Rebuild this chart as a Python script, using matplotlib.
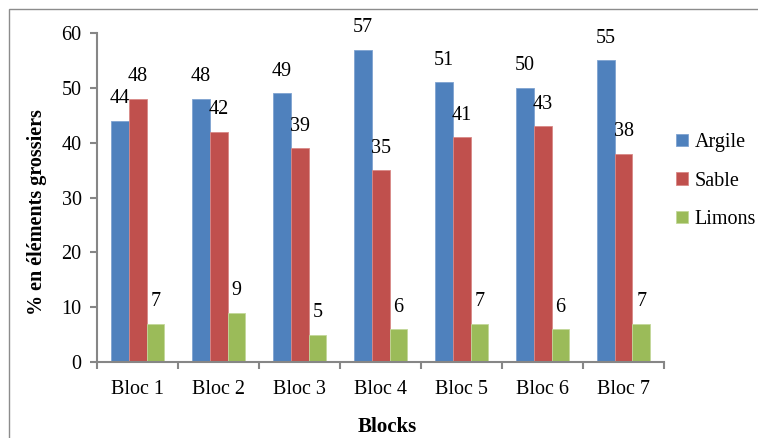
import matplotlib.pyplot as plt
from matplotlib.patches import Rectangle
from matplotlib.ticker import FixedLocator
import numpy as np

plt.rcParams['font.family'] = ['Liberation Serif', 'DejaVu Serif']

blocs = ['Bloc 1', 'Bloc 2', 'Bloc 3', 'Bloc 4', 'Bloc 5', 'Bloc 6', 'Bloc 7']
argile = [44, 48, 49, 57, 51, 50, 55]
sable = [48, 42, 39, 35, 41, 43, 38]
limons = [7, 9, 5, 6, 7, 6, 7]

series = [('Argile', argile, '#4F81BD', '#7FA3D1'),
          ('Sable', sable, '#C0504D', '#D98886'),
          ('Limons', limons, '#9BBB59', '#C3D89A')]

fs = 14.5

fig = plt.figure(figsize=(7.58, 4.38), dpi=100)
ax = fig.add_axes([0.128, 0.1735, 0.748, 0.751])

# outer chart frame (only left and top edges fall inside the image)
fig.patches.append(Rectangle((9 / 758, -0.1), 1.2, 1.1 - 9 / 438,
                             transform=fig.transFigure, fill=False,
                             edgecolor='#8c8c8c', linewidth=1.0))

x = np.arange(len(blocs))
w = 0.222
for i, (name, vals, col, edge) in enumerate(series):
    pos = x + (i - 1) * w
    ax.bar(pos, vals, width=w, color=col, edgecolor=edge, linewidth=0.6, label=name)
    for p, v in zip(pos, vals):
        ax.annotate(str(v), (p, v), xytext=(0, 9), textcoords='offset points',
                    ha='center', va='bottom', fontsize=fs)

ax.set_xlim(-0.5, len(blocs) - 0.5)
ax.set_ylim(0, 60)
ax.set_yticks(range(0, 61, 10))
ax.set_xticks(x)
ax.set_xticklabels(blocs)
ax.xaxis.set_minor_locator(FixedLocator(np.arange(-0.5, len(blocs), 1)))
ax.tick_params(axis='x', which='major', length=0, pad=13, labelsize=fs)
ax.tick_params(axis='x', which='minor', length=5, width=1.5, color='#868686')
ax.tick_params(axis='y', length=5, width=1.5, color='#868686', pad=6, labelsize=fs)

for s in ['top', 'right']:
    ax.spines[s].set_visible(False)
for s in ['left', 'bottom']:
    ax.spines[s].set_color('#868686')
    ax.spines[s].set_linewidth(1.5)

fig.text(37 / 758, 1 - 212 / 438, '% en éléments grossiers', rotation=90,
         ha='center', va='center', fontsize=fs, fontweight='bold')
fig.text(387 / 758, 1 - 427 / 438, 'Blocks', ha='center', va='center',
         fontsize=15, fontweight='bold')

ax.legend(loc='center left', bbox_to_anchor=(0.99, 0.55), frameon=False,
          fontsize=fs, handlelength=0.55, handleheight=0.55, handletextpad=0.35,
          labelspacing=0.95)

fig.savefig('out.png', dpi=100)
